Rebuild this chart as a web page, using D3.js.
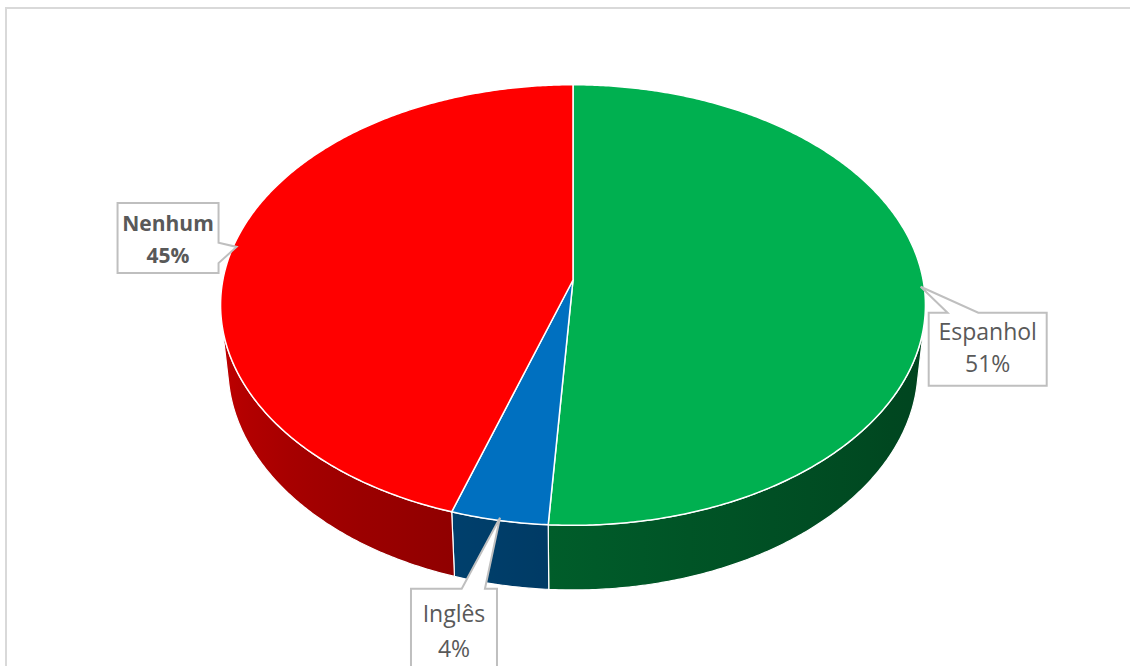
<!DOCTYPE html>
<html>
<head>
<meta charset="utf-8">
<script src="https://cdn.jsdelivr.net/npm/d3@7/dist/d3.min.js"></script>
<style>
  html, body { margin: 0; padding: 0; background: #ffffff; }
  svg { display: block; }
</style>
</head>
<body>
<svg id="chart" width="1130" height="666"></svg>
<script>
// Language spoken besides Portuguese
const categories = ["Espanhol", "Inglês", "Nenhum"];
const values = [51, 4, 45];
const percentLabels = ["51%", "4%", "45%"];
const colors = ["#00B050", "#0070C0", "#FF0000"];

// Callout box placement relative to each slice's anchor point
const labelLayout = [
  { dx: 8,    dy: 26,  w: 118, h: 73,  edge: "top",   b0: 0.16, b1: 0.42, base1: 27, gap: 32, bold: false },
  { dx: -89,  dy: 71,  w: 86,  h: 110, edge: "top",   b0: 0.59, b1: 0.86, base1: 33, gap: 35, bold: false },
  { dx: -119, dy: -44, w: 101, h: 70,  edge: "right", b0: 0.57, b1: 0.86, base1: 28, gap: 32, bold: true }
];

const svg = d3.select("#chart");

// chart area frame
svg.append("rect")
  .attr("x", 6).attr("y", 8)
  .attr("width", 1200).attr("height", 700)
  .attr("fill", "#ffffff")
  .attr("stroke", "#D9D9D9")
  .attr("stroke-width", 2);

// 3D perspective projection of a flat cylinder
const cx = 573, cy = 280;
const tilt = Math.asin(0.621);
const sT = Math.sin(tilt), cT = Math.cos(tilt);
const dist = 6.9, focal = 2416, thick = 0.2325;

function project(a, h, r = 1) {
  const X = r * Math.sin(a), Y = r * Math.cos(a);
  const yv = Y * sT + h * cT;
  const zv = Y * cT - h * sT + dist;
  return [cx + focal * X / zv, cy - focal * yv / zv];
}

const pie = d3.pie().sort(null).value(d => d)(values);
const line = d3.line();
const step = Math.PI / 360;

function arcPoints(a0, a1, h) {
  const n = Math.max(2, Math.ceil((a1 - a0) / step));
  return d3.range(n + 1).map(i => project(a0 + (a1 - a0) * i / n, h));
}

// visible range of the outer wall
const aVis = Math.acos(-1 / (dist * cT));
const visMin = aVis, visMax = 2 * Math.PI - aVis;

function shade(a) {
  const u = Math.max(0, (a - Math.PI / 2) / Math.PI);
  return 0.38 + 0.42 * Math.pow(u, 1.6);
}

const defs = svg.append("defs");
const walls = svg.append("g");
const tops = svg.append("g");

pie.forEach((p, i) => {
  const a0 = Math.max(p.startAngle, visMin);
  const a1 = Math.min(p.endAngle, visMax);
  if (a1 <= a0) return;
  const base = d3.rgb(colors[i]);
  const gid = "wall" + i;
  const xs = project(a0, 0)[0], xe = project(a1, 0)[0];
  const grad = defs.append("linearGradient")
    .attr("id", gid)
    .attr("gradientUnits", "userSpaceOnUse")
    .attr("x1", xs).attr("y1", 0).attr("x2", xe).attr("y2", 0);
  const ns = 12;
  d3.range(ns + 1).forEach(k => {
    const a = a0 + (a1 - a0) * k / ns;
    const x = project(a, 0)[0];
    const b = shade(a);
    grad.append("stop")
      .attr("offset", Math.abs(xe - xs) < 1e-6 ? 0 : (x - xs) / (xe - xs))
      .attr("stop-color", d3.rgb(base.r * b, base.g * b, base.b * b).formatHex());
  });
  const topEdge = arcPoints(a0, a1, 0);
  const botEdge = arcPoints(a0, a1, -thick).reverse();
  walls.append("path")
    .attr("d", line(topEdge.concat(botEdge)) + "Z")
    .attr("fill", `url(#${gid})`)
    .attr("stroke", "#ffffff")
    .attr("stroke-width", 1.2)
    .attr("stroke-linejoin", "round");
});

pie.forEach((p, i) => {
  const pts = [project(0, 0, 0)].concat(arcPoints(p.startAngle, p.endAngle, 0));
  tops.append("path")
    .attr("d", line(pts) + "Z")
    .attr("fill", colors[i])
    .attr("stroke", "#ffffff")
    .attr("stroke-width", 1.5)
    .attr("stroke-linejoin", "round");
});

// callout data labels
const labels = svg.append("g");
pie.forEach((p, i) => {
  const L = labelLayout[i];
  const mid = (p.startAngle + p.endAngle) / 2;
  const [tx, ty] = project(mid, 0, 0.99);
  const x0 = tx + L.dx, y0 = ty + L.dy, x1 = x0 + L.w, y1 = y0 + L.h;
  let pts;
  if (L.edge === "top") {
    pts = [[x0, y0], [x0 + L.w * L.b0, y0], [tx, ty], [x0 + L.w * L.b1, y0],
           [x1, y0], [x1, y1], [x0, y1]];
  } else {
    pts = [[x0, y0], [x1, y0], [x1, y0 + L.h * L.b0], [tx, ty],
           [x1, y0 + L.h * L.b1], [x1, y1], [x0, y1]];
  }
  labels.append("path")
    .attr("d", line(pts) + "Z")
    .attr("fill", "#ffffff")
    .attr("stroke", "#BFBFBF")
    .attr("stroke-width", 2)
    .attr("stroke-linejoin", "miter");
  const txt = labels.append("text")
    .attr("text-anchor", "middle")
    .attr("font-family", "'Open Sans', 'Liberation Sans', sans-serif")
    .attr("font-size", L.bold ? 21 : 23)
    .attr("font-weight", L.bold ? "bold" : "normal")
    .attr("fill", "#595959");
  txt.append("tspan").attr("x", (x0 + x1) / 2).attr("y", y0 + L.base1).text(categories[i]);
  txt.append("tspan").attr("x", (x0 + x1) / 2).attr("y", y0 + L.base1 + L.gap).text(percentLabels[i]);
});
</script>
</body>
</html>
